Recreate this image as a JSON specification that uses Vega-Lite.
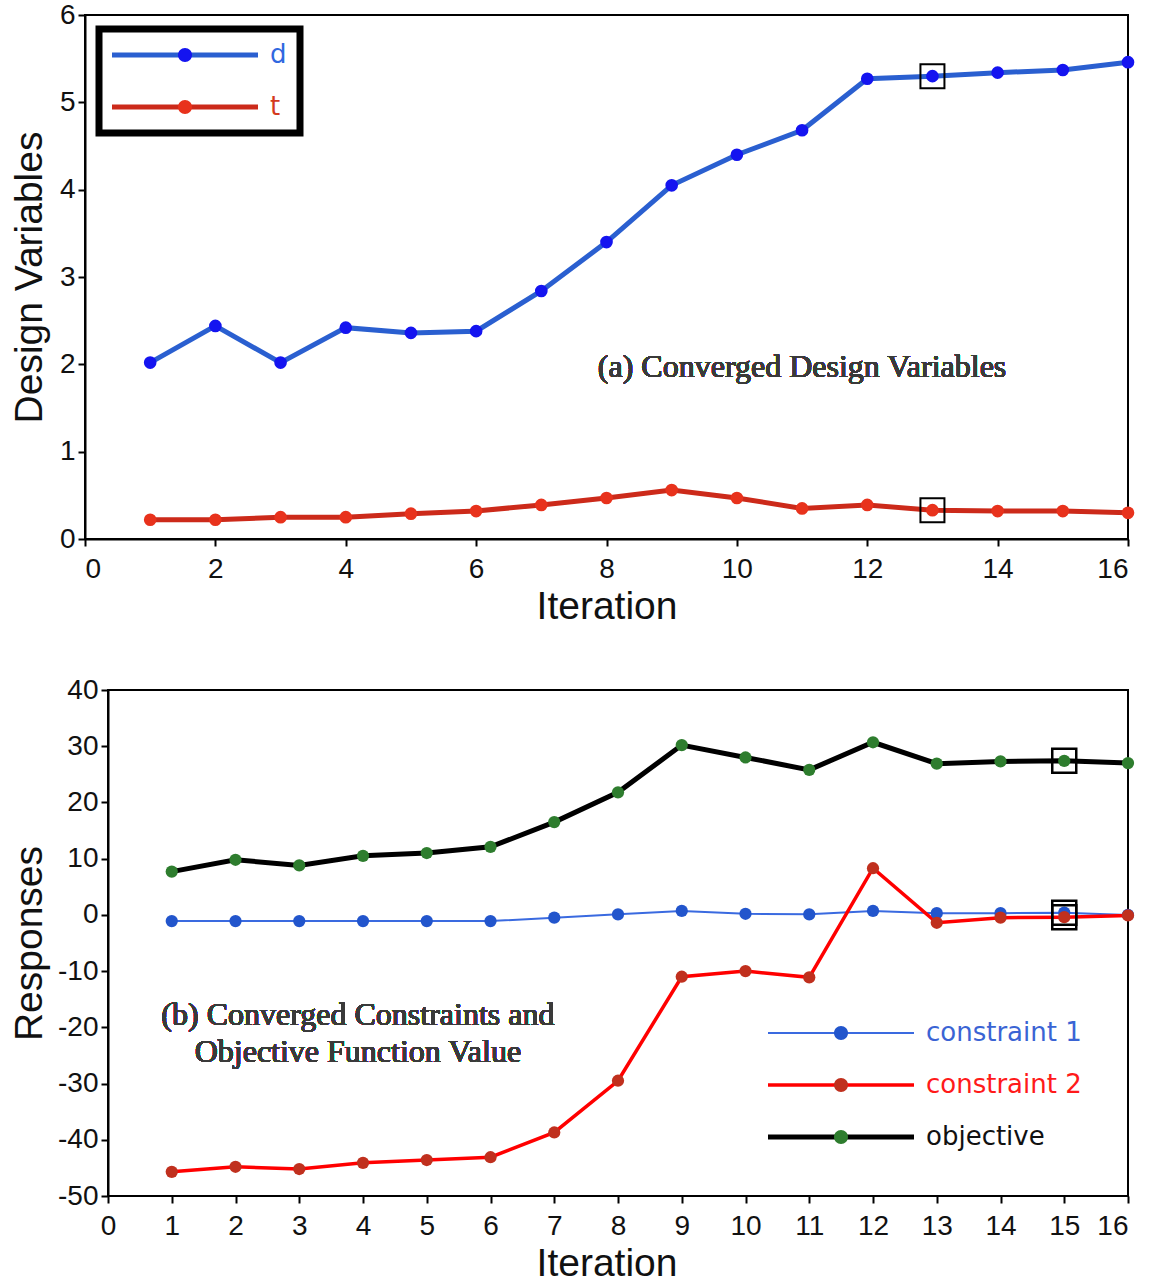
{
  "$schema": "https://vega.github.io/schema/vega-lite/v6.json",
  "background": "white",
  "padding": {"left": 9, "top": 0, "right": 8, "bottom": 0},
  "spacing": 49,
  "resolve": {
    "scale": {"stroke": "independent", "fill": "independent", "strokeWidth": "independent"},
    "legend": {"stroke": "independent", "fill": "independent"}
  },
  "config": {
    "view": {"stroke": "black", "strokeWidth": 2},
    "axis": {
      "domainColor": "black", "domainWidth": 2,
      "tickColor": "black", "tickWidth": 2, "tickSize": 7,
      "labelFont": "Liberation Sans", "labelFontSize": 28, "labelColor": "#111",
      "labelPadding": 9,
      "titleFont": "Liberation Sans", "titleFontSize": 39, "titleFontWeight": "normal", "titleColor": "#111",
      "grid": false
    }
  },
  "datasets": {
    "design": [
      {"iteration": 1, "variable": "d", "value": 2.02},
      {"iteration": 2, "variable": "d", "value": 2.44},
      {"iteration": 3, "variable": "d", "value": 2.02},
      {"iteration": 4, "variable": "d", "value": 2.42},
      {"iteration": 5, "variable": "d", "value": 2.36},
      {"iteration": 6, "variable": "d", "value": 2.38},
      {"iteration": 7, "variable": "d", "value": 2.84},
      {"iteration": 8, "variable": "d", "value": 3.40},
      {"iteration": 9, "variable": "d", "value": 4.05},
      {"iteration": 10, "variable": "d", "value": 4.40},
      {"iteration": 11, "variable": "d", "value": 4.68},
      {"iteration": 12, "variable": "d", "value": 5.27},
      {"iteration": 13, "variable": "d", "value": 5.30},
      {"iteration": 14, "variable": "d", "value": 5.34},
      {"iteration": 15, "variable": "d", "value": 5.37},
      {"iteration": 16, "variable": "d", "value": 5.46},
      {"iteration": 1, "variable": "t", "value": 0.22},
      {"iteration": 2, "variable": "t", "value": 0.22},
      {"iteration": 3, "variable": "t", "value": 0.25},
      {"iteration": 4, "variable": "t", "value": 0.25},
      {"iteration": 5, "variable": "t", "value": 0.29},
      {"iteration": 6, "variable": "t", "value": 0.32},
      {"iteration": 7, "variable": "t", "value": 0.39},
      {"iteration": 8, "variable": "t", "value": 0.47},
      {"iteration": 9, "variable": "t", "value": 0.56},
      {"iteration": 10, "variable": "t", "value": 0.47},
      {"iteration": 11, "variable": "t", "value": 0.35},
      {"iteration": 12, "variable": "t", "value": 0.39},
      {"iteration": 13, "variable": "t", "value": 0.33},
      {"iteration": 14, "variable": "t", "value": 0.32},
      {"iteration": 15, "variable": "t", "value": 0.32},
      {"iteration": 16, "variable": "t", "value": 0.30}
    ],
    "responses": [
      {"iteration": 1, "series": "constraint 1", "value": -1.1},
      {"iteration": 2, "series": "constraint 1", "value": -1.1},
      {"iteration": 3, "series": "constraint 1", "value": -1.1},
      {"iteration": 4, "series": "constraint 1", "value": -1.1},
      {"iteration": 5, "series": "constraint 1", "value": -1.1},
      {"iteration": 6, "series": "constraint 1", "value": -1.1},
      {"iteration": 7, "series": "constraint 1", "value": -0.5},
      {"iteration": 8, "series": "constraint 1", "value": 0.1},
      {"iteration": 9, "series": "constraint 1", "value": 0.7},
      {"iteration": 10, "series": "constraint 1", "value": 0.2},
      {"iteration": 11, "series": "constraint 1", "value": 0.1},
      {"iteration": 12, "series": "constraint 1", "value": 0.7},
      {"iteration": 13, "series": "constraint 1", "value": 0.3},
      {"iteration": 14, "series": "constraint 1", "value": 0.3},
      {"iteration": 15, "series": "constraint 1", "value": 0.4},
      {"iteration": 16, "series": "constraint 1", "value": 0.0},
      {"iteration": 1, "series": "constraint 2", "value": -45.7},
      {"iteration": 2, "series": "constraint 2", "value": -44.8},
      {"iteration": 3, "series": "constraint 2", "value": -45.2},
      {"iteration": 4, "series": "constraint 2", "value": -44.1},
      {"iteration": 5, "series": "constraint 2", "value": -43.6},
      {"iteration": 6, "series": "constraint 2", "value": -43.1},
      {"iteration": 7, "series": "constraint 2", "value": -38.7},
      {"iteration": 8, "series": "constraint 2", "value": -29.5},
      {"iteration": 9, "series": "constraint 2", "value": -11.0},
      {"iteration": 10, "series": "constraint 2", "value": -10.0},
      {"iteration": 11, "series": "constraint 2", "value": -11.1},
      {"iteration": 12, "series": "constraint 2", "value": 8.3},
      {"iteration": 13, "series": "constraint 2", "value": -1.4},
      {"iteration": 14, "series": "constraint 2", "value": -0.5},
      {"iteration": 15, "series": "constraint 2", "value": -0.4},
      {"iteration": 16, "series": "constraint 2", "value": -0.1},
      {"iteration": 1, "series": "objective", "value": 7.7},
      {"iteration": 2, "series": "objective", "value": 9.8},
      {"iteration": 3, "series": "objective", "value": 8.8},
      {"iteration": 4, "series": "objective", "value": 10.5},
      {"iteration": 5, "series": "objective", "value": 11.0},
      {"iteration": 6, "series": "objective", "value": 12.1},
      {"iteration": 7, "series": "objective", "value": 16.5},
      {"iteration": 8, "series": "objective", "value": 21.8},
      {"iteration": 9, "series": "objective", "value": 30.2},
      {"iteration": 10, "series": "objective", "value": 28.0},
      {"iteration": 11, "series": "objective", "value": 25.8},
      {"iteration": 12, "series": "objective", "value": 30.7},
      {"iteration": 13, "series": "objective", "value": 26.9},
      {"iteration": 14, "series": "objective", "value": 27.3},
      {"iteration": 15, "series": "objective", "value": 27.4},
      {"iteration": 16, "series": "objective", "value": 27.0}
    ]
  },
  "vconcat": [
    {
      "width": 1043,
      "height": 524,
      "data": {"name": "design"},
      "encoding": {
        "x": {"field": "iteration", "type": "quantitative", "scale": {"domain": [0, 16]},
              "axis": {"values": [0, 2, 4, 6, 8, 10, 12, 14, 16], "title": "Iteration", "titlePadding": 4}},
        "y": {"field": "value", "type": "quantitative", "scale": {"domain": [0, 6]},
              "axis": {"values": [0, 1, 2, 3, 4, 5, 6], "title": "Design Variables", "titlePadding": 10, "labelPadding": 3}}
      },
      "layer": [
        {
          "mark": {"type": "line", "strokeWidth": 5},
          "encoding": {
            "stroke": {"field": "variable", "type": "nominal",
              "scale": {"domain": ["d", "t"], "range": ["#2a5fd0", "#cc2a1a"]},
              "legend": {
                "orient": "none", "legendX": 14, "legendY": 14, "padding": 13,
                "title": null, "direction": "vertical",
                "symbolType": "M-1.857,0H19", "symbolSize": 196, "symbolStrokeWidth": 5,
                "labelFont": "DejaVu Sans", "labelFontSize": 26, "labelOffset": 132,
                "rowPadding": 26, "strokeColor": "black",
                "encode": {
                  "legend": {"update": {"strokeWidth": {"value": 7}}},
                  "symbols": {"update": {"fill": {"value": "transparent"}}},
                  "labels": {"update": {"fill": {"signal": "datum.value === 'd' ? '#3068e0' : '#d43a1e'"}}}
                }
              }
            }
          }
        },
        {
          "mark": {"type": "point", "filled": true, "size": 160, "opacity": 1},
          "encoding": {
            "fill": {"field": "variable", "type": "nominal",
              "scale": {"range": ["#1414f0", "#e8321c"]},
              "legend": {
                "orient": "none", "legendX": 14, "legendY": 14, "padding": 13,
                "title": null, "direction": "vertical",
                "symbolType": "M9.571,0A1,1,0,1,1,7.571,0A1,1,0,1,1,9.571,0Z", "symbolSize": 196, "symbolStrokeWidth": 0,
                "labelFont": "DejaVu Sans", "labelFontSize": 26, "labelOffset": 132,
                "rowPadding": 26, "labelColor": "transparent",
                "encode": {"symbols": {"update": {"stroke": {"value": "transparent"}, "opacity": {"value": 1}}}}
              }
            }
          }
        },
        {
          "transform": [{"filter": "datum.iteration == 13"}],
          "mark": {"type": "square", "filled": false, "size": 576, "stroke": "black", "strokeWidth": 2, "opacity": 1}
        },
        {
          "mark": {"type": "text", "font": "Times New Roman", "fontSize": 32, "fontWeight": "normal", "fill": "#3a3a3a"},
          "encoding": {
            "x": {"datum": 11.0},
            "y": {"datum": 1.97},
            "text": {"value": "(a) Converged Design Variables"}
          }
        }
      ]
    },
    {
      "width": 1043,
      "height": 506,
      "view": {"stroke": null},
      "data": {"name": "responses"},
      "encoding": {
        "x": {"field": "iteration", "type": "quantitative", "scale": {"domain": [-0.3608, 16], "nice": false},
              "axis": {"values": [0, 1, 2, 3, 4, 5, 6, 7, 8, 9, 10, 11, 12, 13, 14, 15, 16], "title": "Iteration", "titlePadding": 4, "domain": false}},
        "y": {"field": "value", "type": "quantitative", "scale": {"domain": [-50, 40]},
              "axis": {"values": [-50, -40, -30, -20, -10, 0, 10, 20, 30, 40], "labelExpr": "'' + datum.value", "title": "Responses", "titlePadding": 8, "labelPadding": 3, "offset": -23}}
      },
      "layer": [
        {
          "mark": {"type": "rect", "fill": null, "stroke": "black", "strokeWidth": 2},
          "encoding": {
            "x": {"datum": 0, "type": "quantitative"},
            "x2": {"datum": 16},
            "y": {"datum": -50, "type": "quantitative"},
            "y2": {"datum": 40}
          }
        },
        {
          "mark": {"type": "line"},
          "encoding": {
            "stroke": {"field": "series", "type": "nominal",
              "scale": {"domain": ["constraint 1", "constraint 2", "objective"], "range": ["#3a6ae0", "#ff0000", "#000000"]},
              "legend": {
                "orient": "none", "legendX": 683, "legendY": 330, "padding": 0,
                "title": null, "direction": "vertical",
                "symbolType": "M-1.857,0H19", "symbolSize": 196, "symbolStrokeWidth": 5,
                "labelFont": "DejaVu Sans", "labelFontSize": 26, "labelOffset": 132,
                "rowPadding": 26,
                "encode": {
                  "symbols": {"update": {"fill": {"value": "transparent"}, "strokeWidth": {"signal": "datum.value === 'constraint 1' ? 2 : 5"}}},
                  "labels": {"update": {"fill": {"signal": "datum.value === 'constraint 1' ? '#3a64d4' : datum.value === 'constraint 2' ? '#ff1a1a' : '#111111'"}}}
                }
              }
            },
            "strokeWidth": {"field": "series", "type": "nominal",
              "scale": {"domain": ["constraint 1", "constraint 2", "objective"], "range": [2, 5, 5]},
              "legend": null}
          }
        },
        {
          "mark": {"type": "point", "filled": true, "size": 150, "opacity": 1},
          "encoding": {
            "fill": {"field": "series", "type": "nominal",
              "scale": {"range": ["#2255cc", "#c0301e", "#2e7d2e"]},
              "legend": {
                "orient": "none", "legendX": 683, "legendY": 330, "padding": 0,
                "title": null, "direction": "vertical",
                "symbolType": "M9.571,0A1,1,0,1,1,7.571,0A1,1,0,1,1,9.571,0Z", "symbolSize": 196, "symbolStrokeWidth": 0,
                "labelFont": "DejaVu Sans", "labelFontSize": 26, "labelOffset": 132,
                "rowPadding": 26, "labelColor": "transparent",
                "encode": {"symbols": {"update": {"stroke": {"value": "transparent"}, "opacity": {"value": 1}}}}
              }
            }
          }
        },
        {
          "transform": [{"filter": "datum.iteration == 15"}],
          "mark": {"type": "square", "filled": false, "size": 576, "stroke": "black", "strokeWidth": 2.5, "opacity": 1}
        },
        {
          "mark": {"type": "text", "font": "Times New Roman", "fontSize": 32, "fontWeight": "normal", "fill": "#3a3a3a", "lineHeight": 37},
          "encoding": {
            "x": {"datum": 3.92},
            "y": {"datum": -17.8},
            "text": {"value": ["(b) Converged Constraints and", "Objective Function Value"]}
          }
        }
      ]
    }
  ]
}
